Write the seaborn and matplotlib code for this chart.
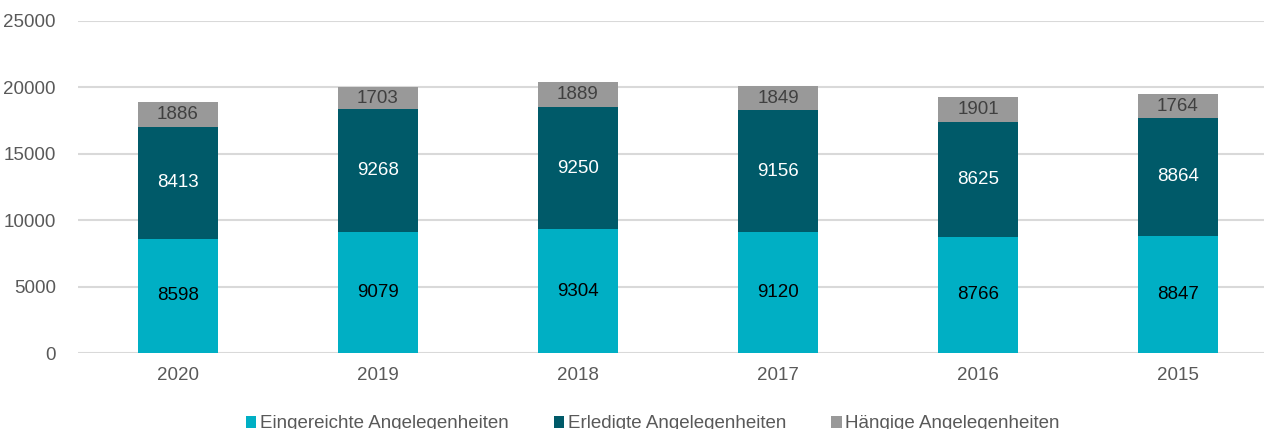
import matplotlib
matplotlib.use("Agg")
import matplotlib.pyplot as plt
from matplotlib.patches import Patch
import seaborn as sns
import pandas as pd
import numpy as np

years = ["2020", "2019", "2018", "2017", "2016", "2015"]
eingereicht = [8598, 9079, 9304, 9120, 8766, 8847]
erledigt = [8413, 9268, 9250, 9156, 8625, 8864]
haengig = [1886, 1703, 1889, 1849, 1901, 1764]

series_names = ["Eingereichte Angelegenheiten", "Erledigte Angelegenheiten", "Hängige Angelegenheiten"]
colors = ["#00AFC4", "#005A69", "#999999"]
label_colors = ["#000000", "#FFFFFF", "#404040"]

sns.set_theme(style="white")
plt.rcParams["font.family"] = ["Liberation Sans", "DejaVu Sans"]

df = pd.DataFrame({"Jahr": years, "e": eingereicht, "r": erledigt, "h": haengig})
df["c1"] = df["e"]
df["c2"] = df["e"] + df["r"]
df["c3"] = df["c2"] + df["h"]

fig = plt.figure(figsize=(12.64, 4.29), dpi=100)
ax = fig.add_axes([78 / 1264, 76 / 429, 1200 / 1264, 332 / 429])

# stacked bars: draw cumulative totals from the top segment down
for col, color in zip(["c3", "c2", "c1"], colors[::-1]):
    sns.barplot(data=df, x="Jahr", y=col, color=color, width=0.4,
                saturation=1, ax=ax, zorder=3, edgecolor="none", linewidth=0)

ax.set_ylim(0, 25000)
ax.set_yticks(range(0, 25001, 5000))
ax.set_xlabel("")
ax.set_ylabel("")
ax.grid(axis="y", color="#D9D9D9", linewidth=1.5, zorder=0)
ax.grid(axis="x", visible=False)
for s in ax.spines.values():
    s.set_visible(False)
ax.tick_params(axis="both", length=0, labelsize=13.5, colors="#595959")
ax.tick_params(axis="y", pad=16)
ax.tick_params(axis="x", pad=10)

# value labels centered in each segment
x = np.arange(len(years))
bottoms = np.zeros(len(years))
for vals, lc in zip([eingereicht, erledigt, haengig], label_colors):
    vals = np.array(vals)
    for xi, b, v in zip(x, bottoms, vals):
        ax.text(xi, b + v / 2, f"{v}", ha="center", va="center",
                fontsize=13.5, color=lc, zorder=5)
    bottoms = bottoms + vals

handles = [Patch(facecolor=c, edgecolor="none") for c in colors]
fig.legend(handles, series_names, loc="center", bbox_to_anchor=(653 / 1264, 5 / 429),
           ncol=3, frameon=False, fontsize=13.5, handlelength=0.55, handleheight=0.55,
           handletextpad=0.2, columnspacing=2.4, labelcolor="#595959",
           borderpad=0, borderaxespad=0)

fig.savefig("out.png", dpi=100)
